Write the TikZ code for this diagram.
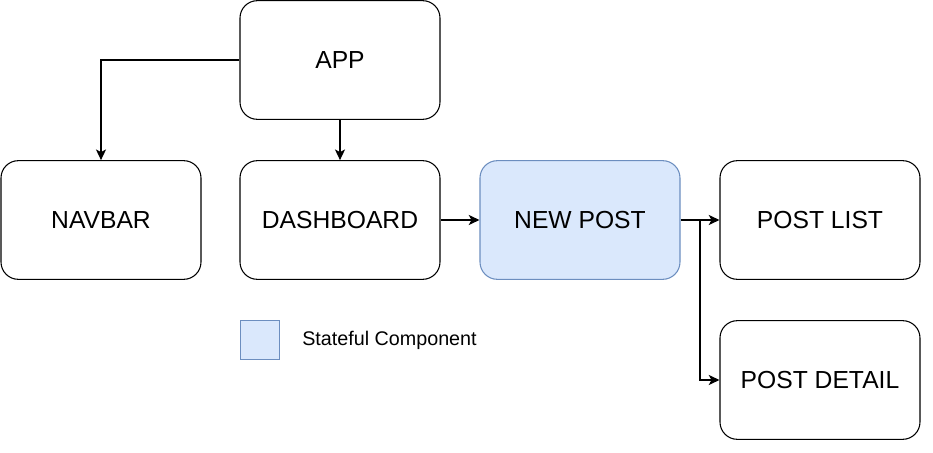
\documentclass[tikz,border=0pt]{standalone}
\usepackage{fontspec}
\setmainfont{Liberation Sans}
\usetikzlibrary{arrows.meta,calc}
\definecolor{stfill}{HTML}{DAE8FC}
\definecolor{stdraw}{HTML}{6C8EBF}
\tikzset{
  comp/.style={draw=black, line width=0.8pt, rounded corners=13pt, minimum width=150pt, minimum height=89pt, inner sep=0pt, font=\fontsize{18.5}{22}\selectfont, fill=white},
  stateful/.style={comp, fill=stfill, draw=stdraw},
  link/.style={draw=black, line width=1.3pt, -{Stealth[length=8pt,width=7.5pt,inset=2pt]}},
}
\begin{document}
\begin{tikzpicture}[x=0.75pt,y=-0.75pt]
\useasboundingbox (0,0) rectangle (933,453);
\node[comp] (app) at (340,60) {APP};
\node[comp] (navbar) at (101,220) {NAVBAR};
\node[comp] (dash) at (340,220) {DASHBOARD};
\node[stateful] (newpost) at (580,220) {NEW POST};
\node[comp] (postlist) at (820,220) {POST LIST};
\node[comp] (postdetail) at (820,380) {POST DETAIL};
\node[draw=stdraw, fill=stfill, line width=0.8pt, minimum width=29pt, minimum height=29pt, inner sep=0pt] (legend) at (260,340) {};
\node[anchor=west, font=\fontsize{14.8}{17}\selectfont, inner sep=0pt] (legendtext) at (302,340) {Stateful Component};
\coordinate (split) at (700,220);
\draw[link] (app.west) -| (navbar.north);
\draw[link] (app.south) -- (dash.north);
\draw[link] (dash.east) -- (newpost.west);
\draw[link] (newpost.east) -- (postlist.west);
\draw[link] (split) |- (postdetail.west);
\end{tikzpicture}
\end{document}
